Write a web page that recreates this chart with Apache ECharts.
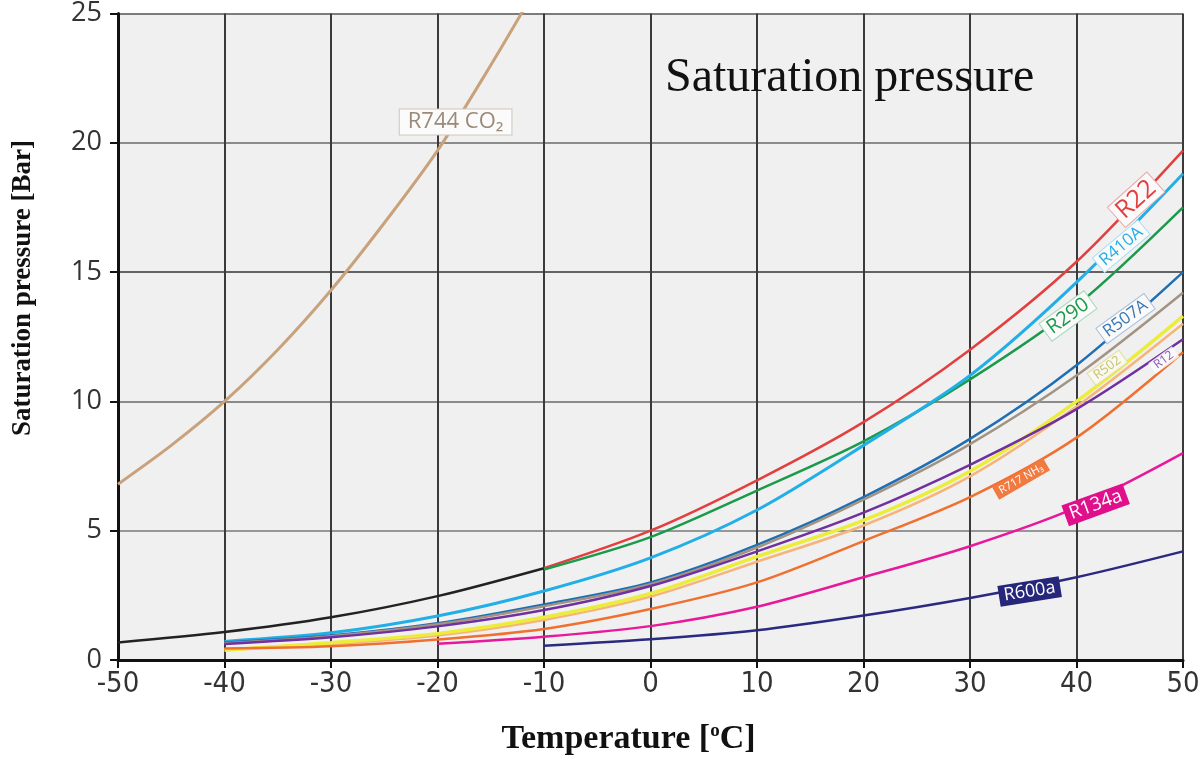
<!DOCTYPE html>
<html>
<head>
<meta charset="utf-8">
<script src="https://cdn.jsdelivr.net/npm/echarts@6/dist/echarts.min.js"></script>
<style>
html,body{margin:0;padding:0;background:#fff;}
#chart{width:1203px;height:765px;}
</style>
</head>
<body>
<div id="chart"></div>
<script>
// ---- data ----
const temps = [-50, -40, -30, -20, -10, 0, 10, 20, 30, 40, 50];
const co2Temps = [-50, -45, -40, -35, -30, -25, -20, -15, -10];
const r744 = [6.8, 8.3, 10.0, 12.0, 14.3, 16.9, 19.7, 23.0, 26.5];
const common = [0.68, 1.08, 1.65, 2.47, 3.55, null, null, null, null, null, null];
const r22   = [null, null, null, null, 3.55, 5.0, 6.95, 9.2, 12.0, 15.4, 19.7];
const r290  = [null, null, null, null, 3.5, 4.75, 6.55, 8.45, 10.85, 13.7, 17.5];
const r410a = [null, 0.72, 1.05, 1.7, 2.67, 3.95, 5.8, 8.3, 11.0, 14.6, 18.8];
const r507a = [null, 0.68, 0.95, 1.42, 2.15, 3.0, 4.45, 6.3, 8.55, 11.4, 15.0];
const r404a = [null, 0.65, 0.92, 1.38, 2.08, 2.93, 4.35, 6.2, 8.35, 11.0, 14.2];
const r502  = [null, 0.38, 0.67, 1.02, 1.65, 2.57, 4.0, 5.4, 7.3, 10.0, 13.3];
const peach = [null, 0.42, 0.62, 0.95, 1.55, 2.45, 3.8, 5.2, 7.1, 9.8, 13.0];
const r12   = [null, 0.62, 0.88, 1.3, 1.93, 2.86, 4.2, 5.7, 7.55, 9.7, 12.4];
const r717  = [null, 0.44, 0.53, 0.79, 1.2, 1.97, 3.0, 4.6, 6.3, 8.6, 11.9];
const r134a = [null, null, null, 0.63, 0.9, 1.31, 2.06, 3.2, 4.4, 5.9, 8.0];
const r600a = [null, null, null, null, 0.55, 0.8, 1.15, 1.72, 2.4, 3.2, 4.2];
const yTicks = [0, 5, 10, 15, 20, 25];
const xTicks = temps;

function pairs(xs, ys) {
  const out = [];
  xs.forEach((x, i) => { if (ys[i] !== null) out.push([x, ys[i]]); });
  return out;
}

function lineSeries(name, xs, ys, color, width, lbl) {
  const s = {
    name: name,
    type: 'line',
    data: pairs(xs, ys),
    smooth: 0.3,
    showSymbol: false,
    symbol: 'none',
    lineStyle: { color: color, width: width },
    itemStyle: { color: color },
    z: 3
  };
  if (lbl) {
    s.markPoint = {
      symbol: 'rect',
      symbolSize: 1,
      itemStyle: { color: 'rgba(0,0,0,0)' },
      silent: true,
      data: [{ coord: lbl.coord }],
      label: Object.assign({
        show: true,
        position: 'inside',
        formatter: lbl.text,
        rotate: lbl.rotate || 0,
        fontFamily: "'Open Sans', 'Noto Sans', sans-serif",
        fontSize: 14,
        padding: [1, 4, 0, 4],
        borderWidth: 1
      }, lbl.style)
    };
  }
  return s;
}

const chart = echarts.init(document.getElementById('chart'));
chart.setOption({
  animation: false,
  backgroundColor: '#ffffff',
  title: {
    text: 'Saturation pressure',
    left: 660,
    top: 49,
    textStyle: { fontFamily: "'Liberation Serif', 'DejaVu Serif', serif", fontSize: 48, fontWeight: 'normal', color: '#111' }
  },
  grid: {
    left: 118, right: 20, top: 8, bottom: 105,
    show: true, backgroundColor: '#f0f0f0', borderWidth: 0
  },
  xAxis: {
    type: 'value', min: -50, max: 50, interval: 10,
    name: 'Temperature [{sup|o}C]',
    nameLocation: 'middle', nameGap: 62,
    nameTextStyle: {
      fontFamily: "'Liberation Serif', serif", fontWeight: 'bold', fontSize: 34, color: '#111',
      padding: [0, 44, 0, 0],
      rich: { sup: { fontFamily: "'Liberation Serif', serif", fontWeight: 'bold', fontSize: 19, color: '#111', verticalAlign: 'top', padding: [0, 0, 16, 0] } }
    },
    axisLine: { show: true, onZero: false, lineStyle: { color: '#111', width: 3 } },
    axisTick: { show: true, length: 8, lineStyle: { color: '#111', width: 2 } },
    axisLabel: {
      margin: 10,
      fontFamily: "'Liberation Sans Narrow', 'DejaVu Sans Condensed', 'Open Sans', sans-serif",
      fontSize: 29, color: '#333'
    },
    splitLine: { show: true, lineStyle: { color: '#3a3a3a', width: 2 } }
  },
  yAxis: {
    type: 'value', min: 0, max: 25, interval: 5,
    axisLine: { show: true, onZero: false, lineStyle: { color: '#111', width: 3 } },
    axisTick: { show: true, length: 8, lineStyle: { color: '#111', width: 2 } },
    axisLabel: {
      margin: 16,
      fontFamily: "'Open Sans', 'Noto Sans', sans-serif",
      fontSize: 27, color: '#333'
    },
    splitLine: { show: true, lineStyle: { color: ['#555', '#7a7a7a', '#6a6a6a', '#333', '#6a6a6a', '#555'], width: 1.6 } }
  },
  graphic: [{
    type: 'text',
    left: 10,
    top: 140,
    rotation: Math.PI / 2,
    style: {
      text: 'Saturation pressure [Bar]',
      fontFamily: "'Liberation Serif', serif",
      fontWeight: 'bold',
      fontSize: 27,
      fill: '#111'
    }
  }],
  series: [
    lineSeries('R744 CO₂', co2Temps, r744, '#c9a27c', 3, {
      coord: [-18.3, 20.8], text: 'R744 CO₂', rotate: 0,
      style: { color: '#9a8a78', backgroundColor: '#fbfbfb', borderColor: '#cfc6bb', fontSize: 22, padding: [2, 8, 1, 8] }
    }),
    lineSeries('R22/R290', temps, common, '#222222', 2.5),
    lineSeries('R22', temps, r22, '#e2403f', 2.5, {
      coord: [45.6, 17.8], text: 'R22', rotate: 42,
      style: { color: '#e2403f', backgroundColor: '#fafafa', borderColor: '#e8aaaa', fontSize: 25 }
    }),
    lineSeries('R290', temps, r290, '#1c9a4c', 2.5, {
      coord: [39.2, 13.3], text: 'R290', rotate: 36,
      style: { color: '#1c9a4c', backgroundColor: '#fafafa', borderColor: '#a8d8b8', fontSize: 20 }
    }),
    lineSeries('R410A', temps, r410a, '#22aee6', 3, {
      coord: [44.2, 16.0], text: 'R410A', rotate: 40,
      style: { color: '#22aee6', backgroundColor: '#fafafa', borderColor: '#a8dcf0', fontSize: 17 }
    }),
    lineSeries('R507A', temps, r507a, '#1f6fb5', 2.5, {
      coord: [44.6, 13.2], text: 'R507A', rotate: 36,
      style: { color: '#3a78b5', backgroundColor: '#fafafa', borderColor: '#a8c0dc', fontSize: 17 }
    }),
    lineSeries('R404A', temps, r404a, '#a39382', 2.5, {
      coord: [50.4, 12.9], text: 'R404A', rotate: 36,
      style: { color: '#9a9088', backgroundColor: '#fafafa', borderColor: '#c8c0b8', fontSize: 11 }
    }),
    lineSeries('peach', temps, peach, '#f6b47a', 2.5),
    lineSeries('R502', temps, r502, '#ecec3c', 3.5, {
      coord: [42.9, 11.3], text: 'R502', rotate: 36,
      style: { color: '#c8c070', backgroundColor: 'rgba(250,250,240,0.9)', borderColor: '#e0dca8', fontSize: 13 }
    }),
    lineSeries('R12', temps, r12, '#7030a0', 2.5, {
      coord: [48.2, 11.6], text: 'R12', rotate: 36,
      style: { color: '#8a5ab8', backgroundColor: 'rgba(250,250,250,0.85)', borderColor: 'rgba(0,0,0,0)', fontSize: 12 }
    }),
    lineSeries('R717 NH₃', temps, r717, '#f07030', 2.5, {
      coord: [34.8, 7.0], text: 'R717 NH₃', rotate: 30,
      style: { color: '#ffffff', backgroundColor: '#f07a40', borderColor: '#f07a40', fontSize: 11 }
    }),
    lineSeries('R134a', temps, r134a, '#e8189a', 2.5, {
      coord: [41.8, 6.0], text: 'R134a', rotate: 20,
      style: { color: '#ffffff', backgroundColor: '#e0108c', borderColor: '#e0108c', fontSize: 19 }
    }),
    lineSeries('R600a', temps, r600a, '#2a2a80', 2.5, {
      coord: [35.6, 2.65], text: 'R600a', rotate: 9,
      style: { color: '#ffffff', backgroundColor: '#26267a', borderColor: '#26267a', fontSize: 18 }
    })
  ]
});
</script>
</body>
</html>
